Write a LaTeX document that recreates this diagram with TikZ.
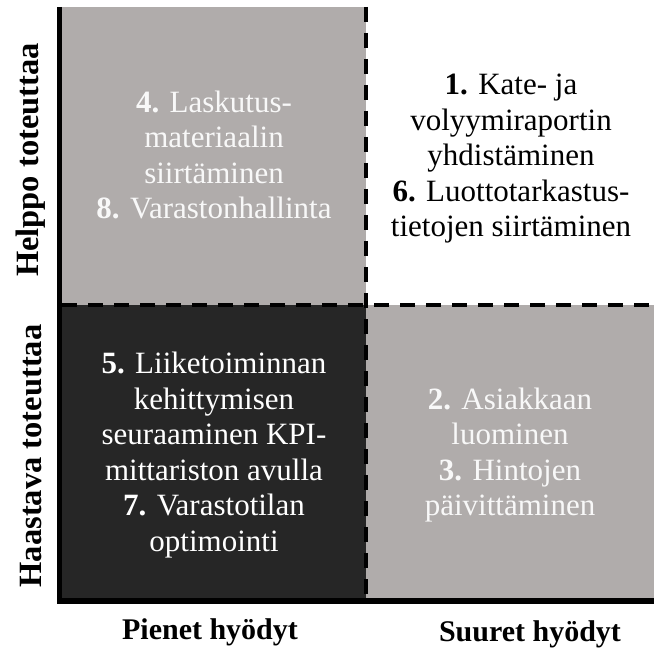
\documentclass[tikz,border=0pt]{standalone}
\usepackage{fontspec}
\setmainfont{Liberation Serif}
\definecolor{qgrey}{HTML}{B0ACAB}
\definecolor{qdark}{HTML}{262626}
\definecolor{qwhite}{HTML}{F8F8F8}
\begin{document}
\begin{tikzpicture}[x=1pt,y=-1pt,
  quadtext/.style={align=center,font=\fontsize{31}{35.5}\selectfont,inner sep=0pt},
  axislabel/.style={font=\fontsize{30}{34}\selectfont\bfseries,inner sep=0pt},
  vlabel/.style={font=\fontsize{32.5}{36}\selectfont\bfseries,inner sep=0pt,rotate=90},
  axisline/.style={line cap=butt},
  divider/.style={line width=4pt,dash pattern=on 15pt off 11pt}]
\useasboundingbox (0,0) rectangle (654,650);
% quadrants
\fill[qgrey] (62,7) rectangle (366,305);
\fill[white] (366,7) rectangle (654,305);
\fill[qdark] (62,305) rectangle (366,601);
\fill[qgrey] (366,305) rectangle (654,601);
% dividers
\coordinate (vtop) at (366,7);
\coordinate (vbot) at (366,601);
\coordinate (hleft) at (62,305);
\coordinate (hright) at (654,305);
\draw[divider] (vtop) -- (vbot);
\draw[divider] (hleft) -- (hright);
% axes
\coordinate (ytop) at (59.5,7);
\coordinate (ybot) at (59.5,604);
\coordinate (xleft) at (57,601);
\coordinate (xright) at (654,601);
\draw[axisline,line width=5pt] (ytop) -- (ybot);
\draw[axisline,line width=6pt] (xleft) -- (xright);
% quadrant texts
\node[quadtext,text=qwhite] (tl) at (214,155) {\textbf{4.} Laskutus-\\materiaalin\\siirtäminen\\\textbf{8.} Varastonhallinta};
\node[quadtext,text=black] (tr) at (511,159) {\textbf{1.} Kate- ja\\volyymiraportin\\yhdistäminen\\\textbf{6.} Luottotarkastus-\\tietojen siirtäminen};
\node[quadtext,text=white] (bl) at (214,455) {\textbf{5.} Liiketoiminnan\\kehittymisen\\seuraaminen KPI-\\mittariston avulla\\\textbf{7.} Varastotilan\\optimointi};
\node[quadtext,text=qwhite] (br) at (510,455) {\textbf{2.} Asiakkaan\\luominen\\\textbf{3.} Hintojen\\päivittäminen};
% axis labels
\node[vlabel] (ly1) at (31,160) {Helppo toteuttaa};
\node[vlabel] (ly2) at (31,456) {Haastava toteuttaa};
\node[axislabel] (lx1) at (210,632) {Pienet hyödyt};
\node[axislabel] (lx2) at (530,634) {Suuret hyödyt};
\end{tikzpicture}
\end{document}
